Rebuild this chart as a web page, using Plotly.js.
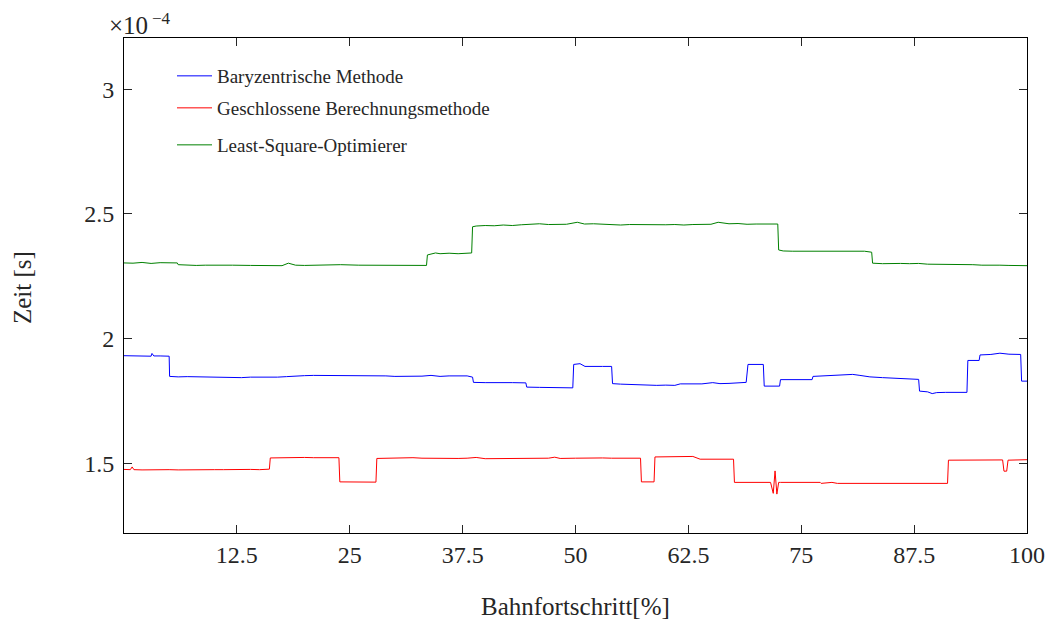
<!DOCTYPE html>
<html>
<head>
<meta charset="utf-8">
<script src="https://cdn.plot.ly/plotly-3.0.1.min.js"></script>
<style>html,body{margin:0;padding:0;background:#fff;}#chart{width:1054px;height:623px;}</style>
</head>
<body>
<div id="chart"></div>
<script>
// Values in units of 1e-4 s
const baryX = [0,1,2,3,3.1,3.3,4,5,5.05,6,7,8,9,10,11,12,13,14,15,16,17,18,19,20,21,22,23,24,25,26,27,28,29,30,31,32,33,34,35,36,37,38,38.6,38.7,40,41,42,43,44.5,44.6,46,47,48,49,49.7,49.8,50.5,51.05,52,53,54.0,54.1,55,56,57,58,59,60,61,61.6,62,63,64,65.2,66,67,68,68.9,69.1,70,70.8,70.9,71.5,72.6,72.7,74,75,76.2,76.3,77,78,79,80,80.7,81.5,82.6,84,85.2,86,87,88.0,88.1,89,89.5,90,91,92,93.35,93.45,94,94.7,94.8,96,97,98,99.3,99.4,100];
const baryY = [1.931,1.930,1.930,1.929,1.940,1.930,1.930,1.929,1.848,1.846,1.847,1.846,1.846,1.845,1.846,1.844,1.843,1.845,1.844,1.844,1.845,1.847,1.850,1.851,1.852,1.852,1.851,1.852,1.851,1.851,1.850,1.849,1.850,1.848,1.848,1.847,1.849,1.852,1.848,1.850,1.851,1.850,1.845,1.824,1.823,1.824,1.823,1.823,1.822,1.805,1.804,1.804,1.803,1.804,1.802,1.896,1.899,1.888,1.889,1.888,1.888,1.819,1.817,1.815,1.814,1.812,1.812,1.813,1.812,1.818,1.818,1.819,1.818,1.823,1.819,1.820,1.821,1.824,1.896,1.897,1.896,1.809,1.808,1.809,1.835,1.834,1.835,1.835,1.848,1.849,1.851,1.853,1.855,1.856,1.852,1.846,1.843,1.840,1.839,1.838,1.836,1.789,1.786,1.779,1.783,1.784,1.783,1.784,1.912,1.911,1.912,1.934,1.936,1.941,1.937,1.936,1.829,1.829];

const geschX = [0,0.7,0.9,1.1,2,3,4,5,6,7,8,9,10,11,12,13,14,15,16.1,16.2,17,18,19,20,21,22,23,23.8,23.9,25,26,27,27.9,28.0,29,30,31,32,33,34,35,36,37,38,39,40,41,42,43,44,45,46,47,47.7,48.3,50,51,52,53,54,55,56,57.2,57.3,58,58.7,58.8,60,61,62,63.0,63.8,65,66,67.5,67.6,69,70,71,71.6,71.9,72.1,72.3,72.5,72.7,74,76,77.1,77.2,78.4,79,80,82,84,86,88,90,91.2,91.3,93,94.6,95,96,97.3,97.45,97.75,97.9,99,100];
const geschY = [1.475,1.474,1.485,1.474,1.473,1.474,1.473,1.474,1.473,1.474,1.474,1.475,1.474,1.474,1.475,1.474,1.475,1.474,1.476,1.521,1.522,1.523,1.522,1.523,1.522,1.523,1.522,1.522,1.425,1.424,1.423,1.424,1.424,1.519,1.520,1.519,1.519,1.522,1.520,1.519,1.519,1.520,1.519,1.520,1.523,1.518,1.518,1.518,1.519,1.518,1.518,1.519,1.520,1.524,1.519,1.520,1.521,1.520,1.521,1.520,1.520,1.521,1.520,1.425,1.424,1.425,1.525,1.525,1.524,1.525,1.527,1.516,1.516,1.516,1.516,1.423,1.423,1.423,1.422,1.423,1.379,1.469,1.376,1.423,1.423,1.423,1.423,1.423,1.419,1.423,1.419,1.419,1.419,1.419,1.419,1.419,1.419,1.419,1.512,1.512,1.514,1.512,1.512,1.513,1.468,1.468,1.512,1.513,1.514];

const lsqX = [0,1,2,3,4,5,5.9,6.0,7,8,9,10,12,14,16,17.5,18.2,19,20,22,23,24,26,28,30,32,33.5,33.6,34.5,35,36,37,38,38.5,38.6,39,40,41,42,43,44,45,46,47,48,49,50.2,51,52,53,54,55,56,57,58,59,60,61,62,63,64,65,65.8,67,68,69,70,71,72.4,72.5,73,74,75,76,77,78,79,80,81,82,82.8,82.9,84,85,86,87,88,89,90,91,92,93,94,95,96,97,98,99,100];
const lsqY = [2.303,2.302,2.305,2.301,2.304,2.302,2.303,2.296,2.294,2.293,2.294,2.293,2.294,2.293,2.293,2.292,2.302,2.294,2.293,2.295,2.293,2.296,2.294,2.294,2.293,2.292,2.293,2.335,2.343,2.340,2.342,2.340,2.341,2.343,2.448,2.451,2.453,2.452,2.455,2.453,2.456,2.458,2.460,2.457,2.458,2.458,2.466,2.459,2.460,2.458,2.457,2.455,2.457,2.456,2.455,2.457,2.456,2.457,2.455,2.457,2.456,2.458,2.466,2.460,2.461,2.458,2.459,2.458,2.459,2.355,2.351,2.350,2.350,2.351,2.350,2.352,2.351,2.352,2.351,2.350,2.346,2.302,2.300,2.302,2.301,2.300,2.301,2.298,2.298,2.296,2.296,2.295,2.296,2.294,2.295,2.294,2.293,2.294,2.292];

const xTicks = [12.5,25,37.5,50,62.5,75,87.5,100];
const xTickText = ['12.5','25','37.5','50','62.5','75','87.5','100'];
const yTicks = [1.5,2,2.5,3];
const yTickText = ['1.5','2','2.5','3'];

const names = ['Baryzentrische Methode','Geschlossene Berechnungsmethode','Least-Square-Optimierer'];

const FONT = 'Liberation Serif';
const TXT = '#262626';

const traces = [
  {x: baryX, y: baryY, name: names[0], mode: 'lines', line: {color: '#0000ff', width: 1}, legend: 'legend'},
  {x: geschX, y: geschY, name: names[1], mode: 'lines', line: {color: '#ff0000', width: 1}, legend: 'legend2'},
  {x: lsqX, y: lsqY, name: names[2], mode: 'lines', line: {color: '#008000', width: 1}, legend: 'legend3'}
];

const W = 903, H = 495;
function px2x(p){ return (p - 124) / W; }
function py2y(p){ return (533 - p) / H; }

const legBase = {bgcolor: 'rgba(0,0,0,0)', borderwidth: 0, font: {family: FONT, size: 19, color: TXT}, xanchor: 'left', yanchor: 'middle', itemwidth: 35};

const layout = {
  width: 1054, height: 623,
  margin: {l: 124, r: 27, t: 38, b: 90},
  paper_bgcolor: '#fff', plot_bgcolor: '#fff',
  font: {family: FONT, color: TXT},
  showlegend: true,
  legend: Object.assign({}, legBase, {x: px2x(172), y: py2y(76)}),
  legend2: Object.assign({}, legBase, {x: px2x(172), y: py2y(108)}),
  legend3: Object.assign({}, legBase, {x: px2x(172), y: py2y(145)}),
  xaxis: {
    range: [0, 100], tickmode: 'array', tickvals: xTicks, ticktext: xTickText,
    ticks: 'inside', ticklen: 8, tickwidth: 1, tickcolor: '#262626',
    showline: true, linecolor: '#000', linewidth: 1, mirror: 'ticks',
    showgrid: false, zeroline: false,
    tickfont: {family: FONT, size: 24, color: TXT}, ticklabelstandoff: 0
  },
  yaxis: {
    range: [1.22, 3.205], tickmode: 'array', tickvals: yTicks, ticktext: yTickText,
    ticks: 'inside', ticklen: 8, tickwidth: 1, tickcolor: '#262626',
    showline: true, linecolor: '#000', linewidth: 1, mirror: 'ticks',
    showgrid: false, zeroline: false,
    tickfont: {family: FONT, size: 24, color: TXT}, ticklabelstandoff: 4
  },
  annotations: [
    {text: 'Bahnfortschritt[%]', xref: 'paper', yref: 'paper', x: 0.5, y: 0, yshift: -73, xanchor: 'center', yanchor: 'middle', showarrow: false, font: {family: FONT, size: 25, color: TXT}},
    {text: 'Zeit [s]', xref: 'paper', yref: 'paper', x: 0, xshift: -102, y: py2y(288), xanchor: 'center', yanchor: 'middle', textangle: -90, showarrow: false, font: {family: FONT, size: 25, color: TXT}},
    {text: '×10', xref: 'paper', yref: 'paper', x: 0, xshift: -17, y: 1, yshift: 13, xanchor: 'left', yanchor: 'middle', showarrow: false, font: {family: FONT, size: 25, color: TXT}},
    {text: '−4', xref: 'paper', yref: 'paper', x: 0, xshift: 26, y: 1, yshift: 20, xanchor: 'left', yanchor: 'middle', showarrow: false, font: {family: FONT, size: 17, color: TXT}}
  ]
};

Plotly.newPlot('chart', traces, layout, {displayModeBar: false, staticPlot: true});
</script>
</body>
</html>
